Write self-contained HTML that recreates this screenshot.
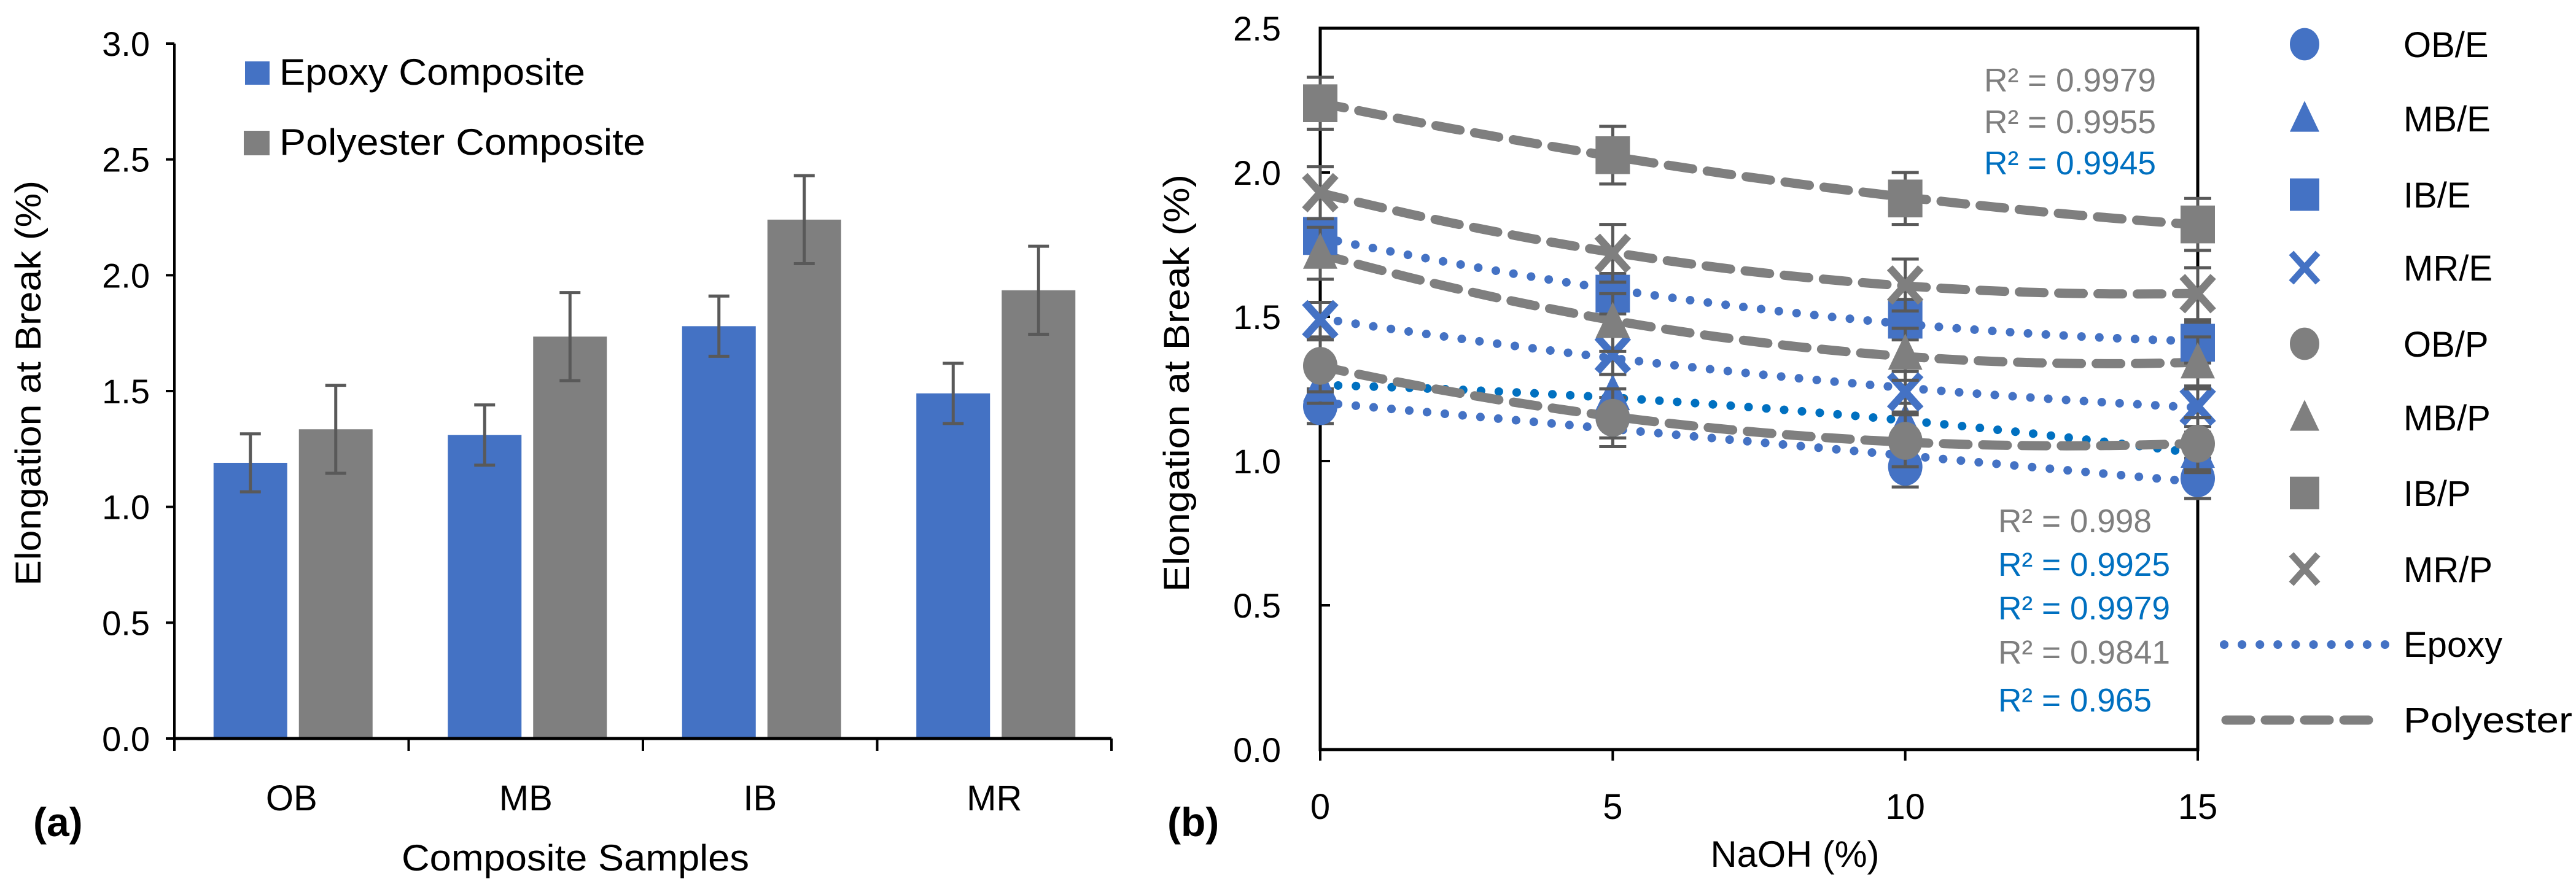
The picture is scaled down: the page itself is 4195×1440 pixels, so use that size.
<!DOCTYPE html>
<html><head><meta charset="utf-8"><style>
html,body{margin:0;padding:0;background:#fff;}
svg{display:block;font-family:"Liberation Sans",sans-serif;}
</style></head><body>
<svg id="svg" width="4195" height="1440" viewBox="0 0 4195 1440" xmlns="http://www.w3.org/2000/svg">
<g id="chartA"></g>
<g id="chartB"></g>
</svg>
<script>
const NS="http://www.w3.org/2000/svg";
// ---- Chart (a) data ----
const categoriesA=["OB","MB","IB","MR"];
const epoxyVals=[1.19,1.31,1.78,1.49];
const epoxyErr=[0.125,0.13,0.13,0.13];
const polyVals=[1.335,1.735,2.24,1.935];
const polyErr=[0.19,0.19,0.19,0.19];
const ticksA=["0.0","0.5","1.0","1.5","2.0","2.5","3.0"];
// ---- Chart (b) data ----
const naoh=[0,5,10,15];
const seriesNames=["OB/E","MB/E","IB/E","MR/E","OB/P","MB/P","IB/P","MR/P"];
const obE=[1.19,1.15,0.98,0.94];
const mbE=[1.26,1.23,1.13,1.03];
const ibE=[1.78,1.58,1.49,1.41];
const mrE=[1.49,1.37,1.24,1.19];
const obP=[1.33,1.15,1.07,1.06];
const mbP=[1.72,1.48,1.37,1.34];
const ibP=[2.24,2.06,1.91,1.82];
const mrP=[1.93,1.72,1.61,1.58];
const errE=[0.06,0.07,0.07,0.07];
const errP=[0.09,0.1,0.09,0.09];
const ticksB=["0.0","0.5","1.0","1.5","2.0","2.5"];
const xTicksB=["0","5","10","15"];
const r2Top=["R² = 0.9979","R² = 0.9955","R² = 0.9945"];
const r2Bottom=["R² = 0.998","R² = 0.9925","R² = 0.9979","R² = 0.9841","R² = 0.965"];

const BLUE="#4472C4",GRAY="#7F7F7F",EB="#595959",R2BLUE="#0070C0";
function el(tag,attrs,parent,text){const e=document.createElementNS(NS,tag);for(const k in attrs)e.setAttribute(k,attrs[k]);if(text!==undefined)e.textContent=text;parent.appendChild(e);return e;}

// ===== Chart A =====
const A=document.getElementById('chartA');
const aX0=284,aX1=1810,aY0=1203,aYtop=71,aMax=3.0;
const ay=v=>aY0-(v/aMax)*(aY0-aYtop);
const catW=(aX1-aX0)/categoriesA.length;
const barW=120;
ticksA.forEach((t,i)=>{const v=parseFloat(t);const y=ay(v);
  const tk=el('line',{x1:aX0-14,x2:aX0,y1:y,y2:y,stroke:'#000','stroke-width':4},A);
  
  const tx=el('text',{x:aX0-40,y:y+20,'text-anchor':'end','font-size':56,fill:'#000'},A,t);
  
});
categoriesA.forEach((c,i)=>{const cx=aX0+catW*(i+0.5);
  [[epoxyVals,epoxyErr,BLUE,-67,'epoxy'],[polyVals,polyErr,GRAY,72,'polyester']].forEach(([vals,errs,col,off,nm])=>{
    const v=vals[i],x=cx+off-barW/2;
    const b=el('rect',{x:x,y:ay(v),width:barW,height:aY0-ay(v),fill:col},A);
    
    const ex=cx+off,e=errs[i];
    const eb=el('path',{d:`M${ex},${ay(v+e)}V${ay(v-e)}M${ex-17},${ay(v+e)}H${ex+17}M${ex-17},${ay(v-e)}H${ex+17}`,stroke:EB,'stroke-width':5,fill:'none'},A);
    
  });
  const lb=el('text',{x:cx,y:1320,'text-anchor':'middle','font-size':58,fill:'#000'},A,c);
  
});
for(let i=0;i<=categoriesA.length;i++){const x=aX0+catW*i;
  const tk=el('line',{x1:x,x2:x,y1:aY0,y2:aY0+20,stroke:'#000','stroke-width':4},A);
  }
let ax=el('line',{x1:aX0,x2:aX1,y1:aY0,y2:aY0,stroke:'#000','stroke-width':5},A);

ax=el('line',{x1:aX0,x2:aX0,y1:aYtop,y2:aY0,stroke:'#000','stroke-width':4},A);

let t=el('text',{x:0,y:0,transform:'translate(66,624) rotate(-90)','text-anchor':'middle','font-size':58,fill:'#000',textLength:660,lengthAdjust:'spacingAndGlyphs'},A,'Elongation at Break (%)');

t=el('text',{x:937,y:1418,'text-anchor':'middle','font-size':60,fill:'#000',textLength:566,lengthAdjust:'spacingAndGlyphs'},A,'Composite Samples');

t=el('text',{x:54,y:1362,'font-size':66,'font-weight':'bold',fill:'#000'},A,'(a)');

let r=el('rect',{x:399,y:100,width:40,height:38,fill:BLUE},A);

t=el('text',{x:455,y:138,'font-size':60,fill:'#000',textLength:498,lengthAdjust:'spacingAndGlyphs'},A,'Epoxy Composite');

r=el('rect',{x:397,y:213,width:42,height:40,fill:GRAY},A);

t=el('text',{x:455,y:252,'font-size':60,fill:'#000',textLength:596,lengthAdjust:'spacingAndGlyphs'},A,'Polyester Composite');


// ===== Chart B =====
const B=document.getElementById('chartB');
const bX0=2150,bX1=3579,bY0=1221,bMax=2.5,bYtop=1221-2.5*470;
const bx=v=>bX0+(v/15)*(bX1-bX0);
const by=v=>bY0-v*470;
el('rect',{x:bX0,y:bYtop,width:bX1-bX0,height:bY0-bYtop,fill:'none',stroke:'#000','stroke-width':5},B);
ticksB.forEach(tk=>{const v=parseFloat(tk),y=by(v);
  const l=el('line',{x1:bX0,x2:bX0+16,y1:y,y2:y,stroke:'#000','stroke-width':4},B);
  
  const tx=el('text',{x:2086,y:y+20,'text-anchor':'end','font-size':56,fill:'#000'},B,tk);
  
});
xTicksB.forEach(tk=>{const x=bx(parseFloat(tk));
  const l=el('line',{x1:x,x2:x,y1:bY0,y2:bY0+18,stroke:'#000','stroke-width':4},B);
  
  const tx=el('text',{x:x,y:1334,'text-anchor':'middle','font-size':58,fill:'#000'},B,tk);
  
});
t=el('text',{x:0,y:0,transform:'translate(1936,624) rotate(-90)','text-anchor':'middle','font-size':58,fill:'#000',textLength:680,lengthAdjust:'spacingAndGlyphs'},B,'Elongation at Break  (%)');

t=el('text',{x:2923,y:1412,'text-anchor':'middle','font-size':60,fill:'#000',textLength:275,lengthAdjust:'spacingAndGlyphs'},B,'NaOH (%)');

t=el('text',{x:1901,y:1362,'font-size':66,'font-weight':'bold',fill:'#000'},B,'(b)');


function quadFit(xs,ys){let n=xs.length,s=[0,0,0,0,0],t=[0,0,0];
  for(let i=0;i<n;i++){const x=xs[i];for(let k=0;k<5;k++)s[k]+=Math.pow(x,k);for(let k=0;k<3;k++)t[k]+=ys[i]*Math.pow(x,k);}
  const M=[[s[0],s[1],s[2],t[0]],[s[1],s[2],s[3],t[1]],[s[2],s[3],s[4],t[2]]];
  for(let i=0;i<3;i++){for(let j=i+1;j<3;j++){const f=M[j][i]/M[i][i];for(let k=i;k<4;k++)M[j][k]-=f*M[i][k];}}
  const c=[0,0,0];for(let i=2;i>=0;i--){let v=M[i][3];for(let k=i+1;k<3;k++)v-=M[i][k]*c[k];c[i]=v/M[i][i];}
  return x=>c[0]+c[1]*x+c[2]*x*x;}
function marker(g,type,x,y,col,s){let m;
  if(type==='circle')m=el('ellipse',{cx:x,cy:y,rx:s*0.5,ry:s*0.55,fill:col},g);
  else if(type==='tri')m=el('path',{d:`M${x},${y-s*0.6}L${x+s*0.5},${y+s*0.45}L${x-s*0.5},${y+s*0.45}Z`,fill:col},g);
  else if(type==='square')m=el('rect',{x:x-s*0.5,y:y-s*0.55,width:s,height:s*1.1,fill:col},g);
  else m=el('path',{d:`M${x-s*0.45},${y-s*0.5}L${x+s*0.45},${y+s*0.5}M${x+s*0.45},${y-s*0.5}L${x-s*0.45},${y+s*0.5}`,stroke:col,'stroke-width':s*0.22,fill:'none'},g);
  return m;}
const series=[[obE,'circle',BLUE,'E',BLUE],[mbE,'tri',BLUE,'E',R2BLUE],[ibE,'square',BLUE,'E',BLUE],[mrE,'x',BLUE,'E',BLUE],
 [obP,'circle',GRAY,'P',GRAY],[mbP,'tri',GRAY,'P',GRAY],[ibP,'square',GRAY,'P',GRAY],[mrP,'x',GRAY,'P',GRAY]];
const lineLayer=el('g',{},B);
const markLayer=el('g',{},B);
series.forEach(([vals,type,col,kind,lcol],si)=>{
  const errs=kind==='E'?errE:errP;
  naoh.forEach((x,i)=>{const px=bx(x),e=errs[i];
    const eb=el('path',{d:`M${px},${by(vals[i]+e)}V${by(vals[i]-e)}M${px-22},${by(vals[i]+e)}H${px+22}M${px-22},${by(vals[i]-e)}H${px+22}`,stroke:EB,'stroke-width':5,fill:'none'},markLayer);
    
    const m=marker(markLayer,type,px,by(vals[i]),col,56);
    
    
  });
  const f=quadFit(naoh,vals);let d='';
  for(let k=0;k<=60;k++){const x=15*k/60;d+=(k?'L':'M')+bx(x).toFixed(1)+','+by(f(x)).toFixed(1);}
  const ln=kind==='E'?el('path',{d:d,fill:'none',stroke:lcol,'stroke-width':14,'stroke-dasharray':'0.1 29','stroke-linecap':'round'},lineLayer)
                      :el('path',{d:d,fill:'none',stroke:GRAY,'stroke-width':15,'stroke-dasharray':'40 24','stroke-linecap':'round'},lineLayer);
  
  
});
const r2Cols1=[GRAY,GRAY,R2BLUE],r2Cols2=[GRAY,R2BLUE,R2BLUE,GRAY,R2BLUE];
const r2Y1=[129,197,264],r2Y2=[847,918,989,1061,1139];
r2Top.forEach((s,i)=>{const tx=el('text',{x:3231,y:r2Y1[i]+20,'font-size':54,fill:r2Cols1[i],textLength:280,lengthAdjust:'spacingAndGlyphs'},B,s);
  });
r2Bottom.forEach((s,i)=>{const tx=el('text',{x:3254,y:r2Y2[i]+20,'font-size':54,fill:r2Cols2[i],textLength:s.length>10?280:250,lengthAdjust:'spacingAndGlyphs'},B,s);
  });
// legend
const legY=[72,193,317,436,560,680,803,927];
series.forEach(([vals,type,col],i)=>{
  const m=marker(B,type,3753,legY[i],col,48);
  
  const tx=el('text',{x:3914,y:legY[i]+21,'font-size':58,fill:'#000'},B,seriesNames[i]);
  
});
let lg=el('line',{x1:3622,x2:3885,y1:1050,y2:1050,stroke:BLUE,'stroke-width':14,'stroke-dasharray':'0.1 29','stroke-linecap':'round'},B);

t=el('text',{x:3914,y:1070,'font-size':58,fill:'#000'},B,'Epoxy');

lg=el('line',{x1:3625,x2:3880,y1:1173,y2:1173,stroke:GRAY,'stroke-width':15,'stroke-dasharray':'40 24','stroke-linecap':'round'},B);

t=el('text',{x:3914,y:1193,'font-size':58,fill:'#000',textLength:275,lengthAdjust:'spacingAndGlyphs'},B,'Polyester');

</script>
</body></html>
